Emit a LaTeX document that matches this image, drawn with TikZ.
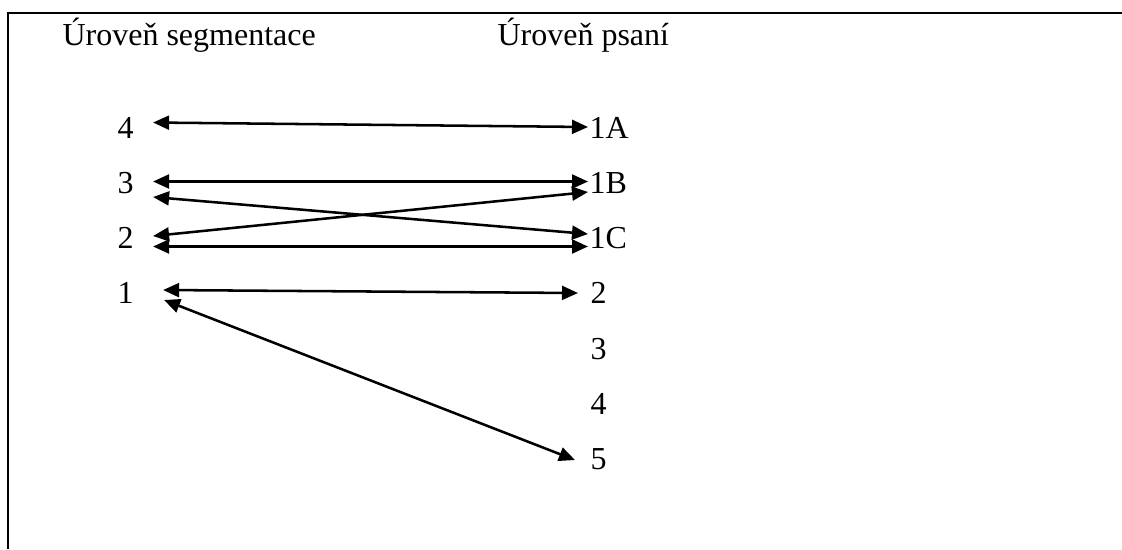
\documentclass[tikz,border=0pt]{standalone}
\usepackage{fontspec}
\setmainfont{Liberation Serif}
\usepackage{xcolor}
\usetikzlibrary{arrows.meta}
\tikzstyle{Label}=[inner sep=0pt,anchor=base west,font=\fontsize{12}{14}\selectfont]
\tikzstyle{Link}=[draw=black,line width=0.95pt,
{Triangle[length=6pt,width=5.2pt]}-{Triangle[length=6pt,width=5.2pt]}]
\tikzstyle{Frame}=[draw=black,line width=0.7pt]

\begin{document}
\begin{tikzpicture}[x=0.375pt,y=-0.375pt]
        \useasboundingbox(0,0)rectangle(1122,549);
        \draw[Frame](1122,13)--(8,13)--(8,549);
        \node[Label](hs)at(62,45.5){Úroveň segmentace};
        \node[Label](hp)at(497,45){Úroveň psaní};
        \node[Label](s4)at(117,138){4};
        \node[Label](s3)at(117,193){3};
        \node[Label](s2)at(117,248.5){2};
        \node[Label](s1)at(117,303.5){1};
        \node[Label](w1A)at(589,138){1A};
        \node[Label](w1B)at(589,193){1B};
        \node[Label](w1C)at(589,248.5){1C};
        \node[Label](w2)at(590,303.5){2};
        \node[Label](w3)at(590,359){3};
        \node[Label](w4)at(590,414){4};
        \node[Label](w5)at(590,469){5};
        \draw[Link]([shift={(19,-15.5)}]s4.base east)--([shift={(-1,-11)}]w1A.base west);
        \draw[Link]([shift={(19,-11.5)}]s3.base east)--([shift={(-1,-11.5)}]w1B.base west);
        \draw[Link]([shift={(19,4)}]s3.base east)--([shift={(-1,-14.5)}]w1C.base west);
        \draw[Link]([shift={(19,-12.5)}]s2.base east)--([shift={(-1,-1)}]w1B.base west);
        \draw[Link]([shift={(19,-2)}]s2.base east)--([shift={(-1,-2)}]w1C.base west);
        \draw[Link]([shift={(29,-13.5)}]s1.base east)--([shift={(-12,-10.5)}]w2.base west);
        \draw[Link]([shift={(30,-3.5)}]s1.base east)--([shift={(-15,-9)}]w5.base west);
    \end{tikzpicture}
\end{document}
